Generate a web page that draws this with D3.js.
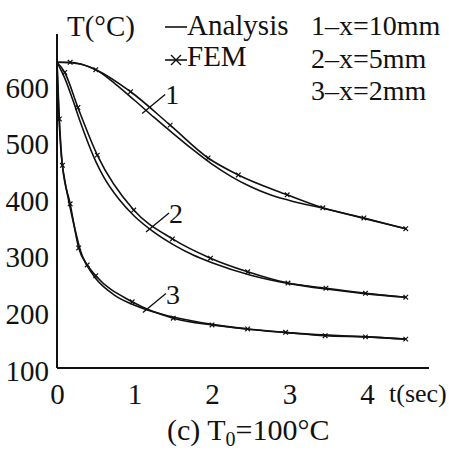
<!DOCTYPE html>
<html>
<head>
<meta charset="utf-8">
<script src="https://cdn.jsdelivr.net/npm/d3@7/dist/d3.min.js"></script>
<style>
  html, body { margin: 0; padding: 0; background: #fff; }
  svg { display: block; }
  svg text { font-family: "Liberation Serif", Tinos, "DejaVu Serif", serif; fill: #111; }
</style>
</head>
<body>
<svg id="chart" width="449" height="453"></svg>
<script>
// Temperature history T(t) at three depths, analytic solution vs FEM
const xTicks = [0, 1, 2, 3, 4];
const yTicks = [100, 200, 300, 400, 500, 600];

// Analysis curves (t in sec, T in °C)
const analysisT1 = [0, 0.25, 0.5, 0.75, 1.0, 1.25, 1.5, 1.75, 2.0, 2.25, 2.5, 2.75, 3.0, 3.5, 4.0, 4.5];
const analysisV1 = [640, 638, 627, 602, 573, 543, 514, 486, 460, 438, 420, 406, 396, 380, 363, 346];

const analysisT2 = [0, 0.1, 0.2, 0.3, 0.4, 0.5, 0.6, 0.8, 1.0, 1.25, 1.5, 1.75, 2.0, 2.5, 3.0, 3.5, 4.0, 4.5];
const analysisV2 = [640, 612, 575, 535, 498, 465, 438, 398, 368, 340, 318, 300, 286, 264, 249, 239, 231, 225];

const analysisT3 = [0, 0.02, 0.05, 0.1, 0.15, 0.2, 0.25, 0.3, 0.4, 0.5, 0.75, 1.0, 1.25, 1.5, 2.0, 2.5, 3.0, 3.5, 4.0, 4.5];
const analysisV3 = [640, 560, 485, 432, 396, 364, 335, 308, 278, 258, 228, 211, 199, 190, 177, 168, 162, 158, 155, 151];

// FEM results
const femT1 = [0, 0.17, 0.5, 0.95, 1.46, 1.95, 2.34, 2.97, 3.43, 3.96, 4.5];
const femV1 = [640, 640, 627, 588, 529, 471, 441, 406, 383, 365, 346];

const femT2 = [0, 0.1, 0.27, 0.52, 0.99, 1.49, 1.98, 2.46, 2.98, 3.47, 3.98, 4.5];
const femV2 = [640, 622, 560, 476, 379, 328, 294, 270, 250, 241, 232, 225];

const femT3 = [0, 0.03, 0.07, 0.17, 0.28, 0.39, 0.5, 0.97, 1.5, 2.0, 2.46, 2.95, 3.46, 3.98, 4.5];
const femV3 = [640, 540, 458, 390, 312, 282, 263, 217, 188, 176, 169, 163, 157, 155, 151];

const curveLabels = ["1", "2", "3"];
const legendCases = ["1\u2013x=10mm", "2\u2013x=5mm", "3\u2013x=2mm"];

const svg = d3.select("#chart");
const ink = "#111";
const FONT = "'Liberation Serif', Tinos, 'DejaVu Serif', serif";
const FS = 28;

const x = d3.scaleLinear().domain([0, 4.8]).range([57, 429]);
const y = d3.scaleLinear().domain([100, 690]).range([368, 34]);

const zip = (ts, vs) => ts.map((t, i) => ({ t, v: vs[i] }));
const analysis = [zip(analysisT1, analysisV1), zip(analysisT2, analysisV2), zip(analysisT3, analysisV3)];
const fem = [zip(femT1, femV1), zip(femT2, femV2), zip(femT3, femV3)];

const line = d3.line().x(d => x(d.t)).y(d => y(d.v)).curve(d3.curveMonotoneX);

// axes
const xAxis = d3.axisBottom(x).tickValues(xTicks).tickSize(0).tickPadding(15).tickFormat(d3.format("d"));
const gx = svg.append("g").attr("transform", `translate(0,${y(100)})`).call(xAxis)
  .attr("font-family", FONT);
gx.select(".domain").remove();
gx.selectAll("text").attr("font-size", 29).attr("fill", ink);

const yAxis = d3.axisLeft(y).tickValues(yTicks).tickSize(0).tickPadding(8).tickFormat(d3.format("d"));
const gy = svg.append("g").attr("transform", `translate(${x(0)},0)`).call(yAxis)
  .attr("font-family", FONT);
gy.select(".domain").remove();
gy.selectAll("text").attr("font-size", 29).attr("fill", ink).attr("dy", "0.42em");

svg.append("line").attr("x1", x(0)).attr("x2", x(0)).attr("y1", y(690)).attr("y2", y(100))
  .attr("stroke", ink).attr("stroke-width", 2);
svg.append("line").attr("x1", x(0)).attr("x2", x(4.8)).attr("y1", y(100)).attr("y2", y(100))
  .attr("stroke", ink).attr("stroke-width", 2);

const txt = svg.append("g").attr("font-family", FONT).attr("font-size", FS);

// axis titles
txt.append("text").attr("x", 67).attr("y", 36).attr("font-size", 29).text("T(\u00B0C)");
txt.append("text").attr("x", 389).attr("y", 402).attr("font-size", 26).text("t(sec)");

// curves
const g = svg.append("g");
analysis.forEach(s => {
  g.append("path").attr("d", line(s)).attr("fill", "none").attr("stroke", ink).attr("stroke-width", 1.6);
});
fem.forEach(s => {
  g.append("path").attr("d", line(s)).attr("fill", "none").attr("stroke", ink).attr("stroke-width", 1.6);
  g.selectAll(null).data(s.slice(1)).enter().append("path")
    .attr("d", d => { const px = x(d.t), py = y(d.v), r = 2.3;
      return `M${px - r},${py - r}L${px + r},${py + r}M${px - r},${py + r}L${px + r},${py - r}`; })
    .attr("stroke", ink).attr("stroke-width", 1.2);
});

// curve number labels with leaders (anchored to the analysis curve at given time)
const labelAt = [1.15, 1.2, 1.16];
curveLabels.forEach((lab, i) => {
  const s = analysis[i];
  const t0 = labelAt[i];
  const j = s.findIndex(d => d.t >= t0);
  const a = s[j - 1], b = s[j];
  const v0 = a.v + (b.v - a.v) * (t0 - a.t) / (b.t - a.t);
  const px = x(t0), py = y(v0);
  g.append("line").attr("x1", px - 4).attr("y1", py + 3).attr("x2", px + 19).attr("y2", py - 16)
    .attr("stroke", ink).attr("stroke-width", 1.4);
  txt.append("text").attr("x", px + 19).attr("y", py - 6).text(lab);
});

// legend
const lg = svg.append("g");
lg.append("line").attr("x1", 165).attr("x2", 187).attr("y1", 27).attr("y2", 27).attr("stroke", ink).attr("stroke-width", 1.6);
txt.append("text").attr("x", 187).attr("y", 35).attr("font-size", 29).text("Analysis");
lg.append("line").attr("x1", 165).attr("x2", 187).attr("y1", 60).attr("y2", 60).attr("stroke", ink).attr("stroke-width", 1.6);
lg.append("path").attr("d", "M171,55L181,65M171,65L181,55").attr("stroke", ink).attr("stroke-width", 1.4);
txt.append("text").attr("x", 187).attr("y", 66).attr("font-size", 29).text("FEM");
legendCases.forEach((c, i) => {
  txt.append("text").attr("x", 311).attr("y", 35 + i * 32.5).text(c);
});

// caption
const cap = txt.append("text").attr("x", 167).attr("y", 440).attr("font-size", 30);
cap.append("tspan").text("(c)  T");
cap.append("tspan").attr("font-size", 20).attr("dy", 6).text("0");
cap.append("tspan").attr("dy", -6).text("=100\u00B0C");
</script>
</body>
</html>
